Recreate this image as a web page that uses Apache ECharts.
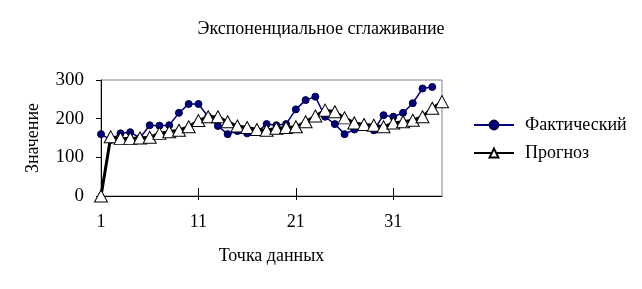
<!DOCTYPE html>
<html>
<head>
<meta charset="utf-8">
<script src="https://cdn.jsdelivr.net/npm/echarts@6/dist/echarts.min.js"></script>
<style>
html,body{margin:0;padding:0;background:#fff;}
#c{width:642px;height:289px;}
</style>
</head>
<body>
<div id="c"></div>
<script>
var categories = [];
for (var i = 1; i <= 36; i++) categories.push(String(i));

var actual = [160, 145, 162, 165, 150, 183, 182, 183, 215, 238, 238, 205, 181, 160, 168, 162, 165, 186, 183, 186, 224, 248, 257, 205, 186, 160, 172, 178, 170, 209, 205, 215, 240, 278, 282];
var forecast = [0, 153, 149, 149, 150, 152, 162, 166, 170, 179, 195, 205, 205, 192, 181, 177, 172, 170, 175, 177, 179, 192, 207, 222, 218, 202, 189, 185, 183, 179, 189, 192, 196, 205, 227, 244];

var titleText = 'Экспоненциальное сглаживание';
var xName = 'Точка данных';
var yName = 'Значение';
var seriesNames = ['Фактический', 'Прогноз'];

var FONT = '"Liberation Serif", "DejaVu Serif", serif';
var chart = echarts.init(document.getElementById('c'), null, {renderer: 'canvas'});
chart.setOption({
  animation: false,
  backgroundColor: '#fff',
  textStyle: {fontFamily: FONT, color: '#000'},
  title: {
    text: titleText, left: 'center', top: 15,
    textStyle: {fontFamily: FONT, fontSize: 18, fontWeight: 'normal', color: '#000'}
  },
  legend: {
    orient: 'vertical', left: 468, top: 111, itemGap: 10,
    itemWidth: 40, itemHeight: 11,
    textStyle: {fontFamily: FONT, fontSize: 18, color: '#000', padding: [0, 0, 0, 6]},
    data: seriesNames
  },
  grid: {
    left: 101, right: 200, top: 80, bottom: 93,
    show: true, borderColor: '#808080', borderWidth: 1, backgroundColor: 'transparent'
  },
  xAxis: [{
    type: 'category', data: categories, boundaryGap: false,
    name: xName, nameLocation: 'middle', nameGap: 51,
    nameTextStyle: {fontFamily: FONT, fontSize: 18, color: '#000'},
    axisLine: {lineStyle: {color: '#000', width: 1}},
    axisTick: {show: true, interval: 9, length: 4, lineStyle: {color: '#000'}},
    axisLabel: {interval: 9, margin: 17, fontFamily: FONT, fontSize: 18, color: '#000'},
    splitLine: {show: false}
  }, {
    type: 'category', data: categories, boundaryGap: false, position: 'bottom', offset: 0,
    axisLine: {show: false},
    axisTick: {show: true, inside: true, interval: 9, length: 8, lineStyle: {color: '#000'}},
    axisLabel: {show: false}
  }],
  yAxis: {
    type: 'value', min: 0, max: 300, interval: 100,
    name: yName, nameLocation: 'middle', nameGap: 59, nameRotate: 90,
    nameTextStyle: {fontFamily: FONT, fontSize: 18, color: '#000'},
    axisLine: {show: true, lineStyle: {color: '#000', width: 1}},
    axisTick: {show: true, length: 5, lineStyle: {color: '#000'}},
    axisLabel: {margin: 17, fontFamily: FONT, fontSize: 19, color: '#000'},
    splitLine: {show: false}
  },
  series: [{
    name: seriesNames[0], type: 'line', data: actual,
    symbol: 'circle', symbolSize: 7, showSymbol: true, showAllSymbol: true,
    itemStyle: {color: '#000080', borderColor: '#000040', borderWidth: 1},
    lineStyle: {color: '#000080', width: 1.5}
  }, {
    name: seriesNames[1], type: 'line', data: forecast,
    symbol: 'triangle', symbolSize: [13, 12], showSymbol: true, showAllSymbol: true,
    itemStyle: {color: '#fff', borderColor: '#000', borderWidth: 1},
    lineStyle: {color: '#000', width: 3}
  }]
});
</script>
</body>
</html>
